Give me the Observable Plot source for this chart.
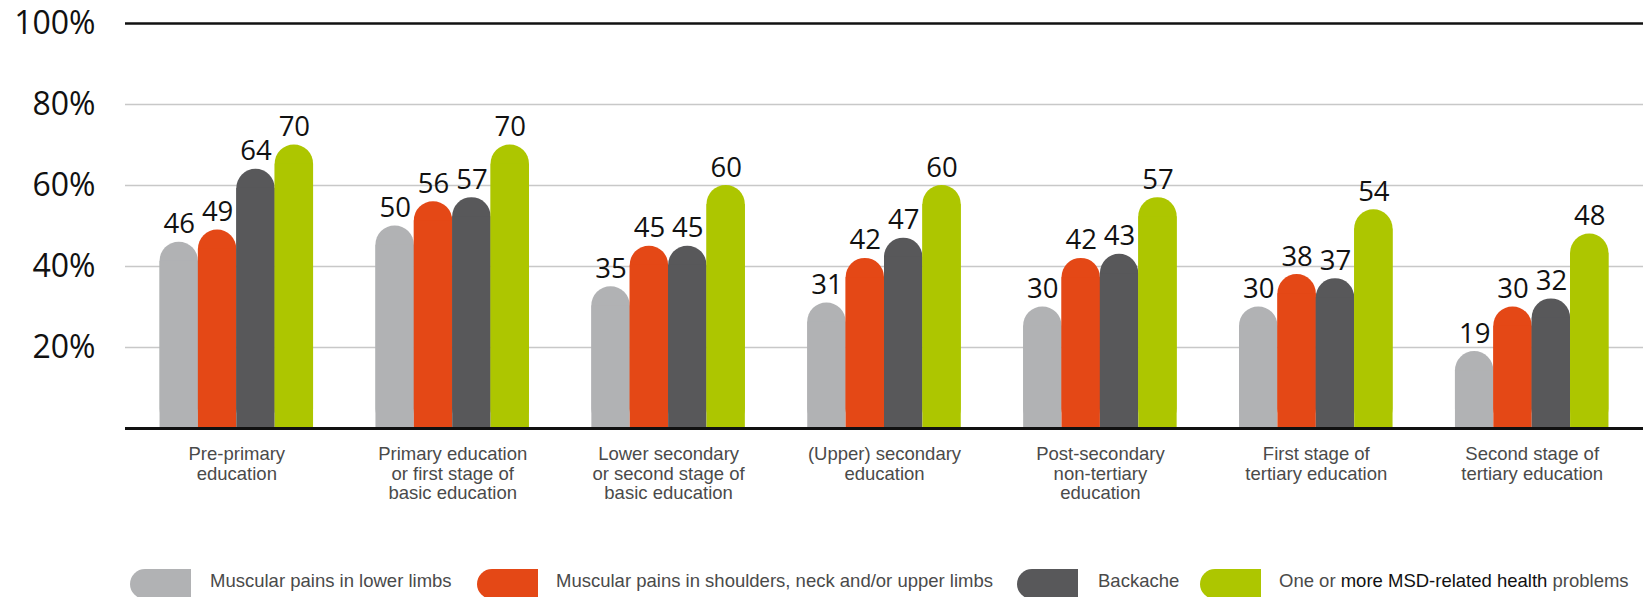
<!DOCTYPE html>
<html>
<head>
<meta charset="utf-8">
<script src="https://cdn.jsdelivr.net/npm/d3@7"></script>
<script src="https://cdn.jsdelivr.net/npm/@observablehq/plot@0.6"></script>
<style>
  html, body { margin: 0; padding: 0; background: #fff; overflow: hidden; }
  #chart { width: 1643px; }
  #legend { position: relative; width: 1643px; height: 37px; font-family: "Liberation Sans", Arial, sans-serif; font-size: 18.5px; color: #4a4a4a; }
  .sw { position: absolute; top: 9px; width: 61px; height: 30px; border-radius: 15px 0 0 15px; }
  .lt { position: absolute; top: 11px; line-height: 20px; white-space: nowrap; }
  .lt b { font-weight: normal; color: #111; }
</style>
</head>
<body>
<div id="chart"></div>
<div id="legend"></div>
<script>
const categories = [
  "Pre-primary\neducation",
  "Primary education\nor first stage of\nbasic education",
  "Lower secondary\nor second stage of\nbasic education",
  "(Upper) secondary\neducation",
  "Post-secondary\nnon-tertiary\neducation",
  "First stage of\ntertiary education",
  "Second stage of\ntertiary education"
];
const seriesNames = [
  "Muscular pains in lower limbs",
  "Muscular pains in shoulders, neck and/or upper limbs",
  "Backache",
  "One or more MSD-related health problems"
];
const seriesColors = ["#b1b2b4", "#e44816", "#58585a", "#adc600"];
const lowerLimbs = [46, 50, 35, 31, 30, 30, 19];
const upperLimbs = [49, 56, 45, 42, 42, 38, 30];
const backache   = [64, 57, 45, 47, 43, 37, 32];
const oneOrMore  = [70, 70, 60, 60, 57, 54, 48];
const yTicks = [20, 40, 60, 80, 100];
const gridTicks = [20, 40, 60, 80];

const seriesValues = [lowerLimbs, upperLimbs, backache, oneOrMore];
const rows = [];
seriesValues.forEach((vals, s) => vals.forEach((v, c) => rows.push({category: categories[c], series: s, value: v})));

const W = 1643, H = 560, mL = 125, mR = 0, mT = 23, mB = 132;
const padIn = 0.289, padOut = 0.16;
const bw = d3.scaleBand().domain(categories).range([mL, W - mR]).paddingInner(padIn).paddingOuter(padOut).bandwidth();
const q = bw / 4;

const barMarks = [];
const textMarks = [];
for (let s = 0; s < 4; s++) {
  const data = rows.filter(d => d.series === s);
  const common = {x: "category", y: "value", fill: seriesColors[s], insetLeft: s * q, insetRight: (3 - s) * q};
  barMarks.push(Plot.barY(data, {...common, rx: q / 2, ry: q / 2, ariaLabel: "roundbar"}));
  barMarks.push(Plot.barY(data, {...common, insetTop: q / 2, ariaLabel: "squarebar"}));
  textMarks.push(Plot.text(data, {
    x: "category", y: "value", text: d => String(d.value),
    dx: (s + 0.5) * q - bw / 2, dy: -9, lineAnchor: "bottom",
    fontSize: 27.5, fontFamily: "Open Sans", fill: "#111"
  }));
}

const plot = Plot.plot({
  width: W, height: H,
  marginLeft: mL, marginRight: mR, marginTop: mT, marginBottom: mB,
  style: {fontFamily: "Liberation Sans, Arial, sans-serif", background: "#fff"},
  x: {type: "band", domain: categories, paddingInner: padIn, paddingOuter: padOut, round: false, label: null},
  y: {domain: [0, 100], label: null},
  marks: [
    Plot.ruleY(gridTicks, {stroke: "#c8c8c8", strokeWidth: 1.5}),
    Plot.ruleY([100], {stroke: "#111", strokeWidth: 2.5}),
    ...barMarks,
    Plot.ruleY([0], {stroke: "#111", strokeWidth: 3}),
    ...textMarks,
    Plot.axisY({ticks: yTicks, tickSize: 0, tickPadding: 30, tickFormat: d => d + "%", fontSize: 32, fontFamily: "Open Sans", fill: "#111", label: null}),
    Plot.axisX({tickSize: 0, tickPadding: 18, fontSize: 18.5, lineHeight: 1.05, fill: "#4a4a4a", label: null})
  ]
});
document.getElementById("chart").appendChild(plot);
d3.select(plot).selectAll('g[aria-label="roundbar"]').style("filter", "drop-shadow(1px 0px 3px rgba(0,0,0,0.25))");

// Legend
const legend = d3.select("#legend");
const swLeft = [130, 477, 1017, 1200];
const txtLeft = [210, 556, 1098, 1279];
seriesNames.forEach((name, i) => {
  legend.append("div").attr("class", "sw").style("left", swLeft[i] + "px").style("background", seriesColors[i]);
  const t = legend.append("div").attr("class", "lt").style("left", txtLeft[i] + "px");
  if (i === 3) {
    t.html("One or <b>more MSD-related health</b> problems");
  } else {
    t.text(name);
  }
});
</script>
</body>
</html>
